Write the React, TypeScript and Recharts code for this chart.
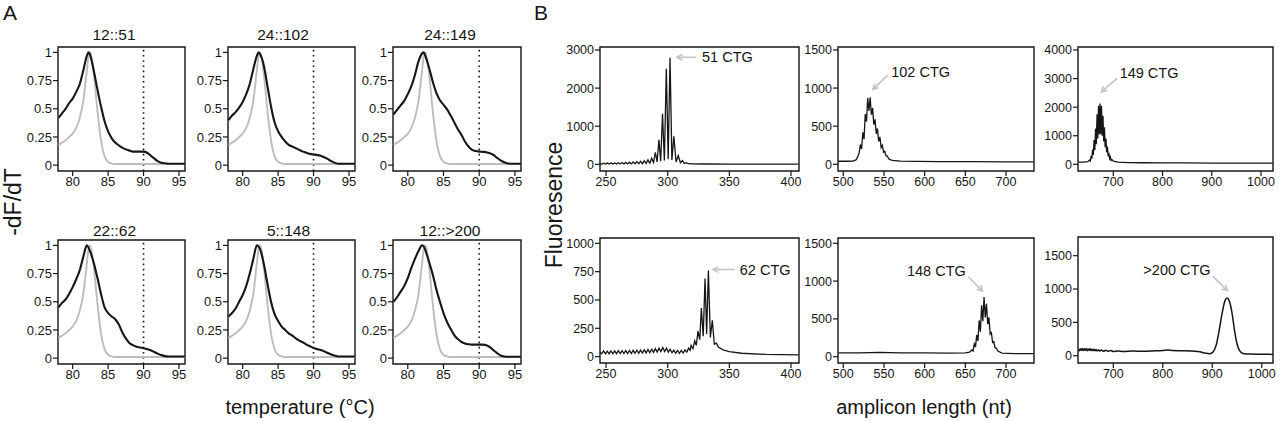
import React from 'react';
import { LineChart, Line, XAxis, YAxis, ReferenceLine, ReferenceArea, ReferenceDot } from 'recharts';

const FONT = '"Liberation Sans", Arial, Helvetica, sans-serif';
const INK = '#161616';
const GREY = '#bdbdbd';
const ARROW = '#c4c4c4';

// ---------- A: melt curves (-dF/dT) ----------
const temps = [78, 78.5, 79, 79.5, 80, 80.5, 81, 81.5, 82, 82.25, 82.5, 83, 83.5, 84, 84.5, 85, 85.5, 86, 86.5, 87, 87.5, 88, 88.5, 89, 89.5, 90, 90.5, 91, 91.5, 92, 92.5, 93, 93.5, 94, 95, 96];
const refCurve = [0.18, 0.2, 0.22, 0.25, 0.28, 0.33, 0.42, 0.57, 0.84, 0.97, 1.0, 0.8, 0.48, 0.22, 0.08, 0.03, 0.015, 0.01, 0.01, 0.01, 0.01, 0.01, 0.01, 0.01, 0.01, 0.01, 0.01, 0.01, 0.01, 0.01, 0.01, 0.01, 0.01, 0.01, 0.01, 0.01];
const melt12_51 = [0.42, 0.46, 0.5, 0.55, 0.59, 0.65, 0.72, 0.84, 0.97, 1.0, 0.97, 0.83, 0.67, 0.52, 0.39, 0.3, 0.24, 0.2, 0.175, 0.155, 0.14, 0.13, 0.12, 0.12, 0.12, 0.12, 0.11, 0.085, 0.06, 0.035, 0.022, 0.016, 0.013, 0.012, 0.012, 0.012];
const melt24_102 = [0.4, 0.44, 0.47, 0.51, 0.56, 0.63, 0.72, 0.85, 0.97, 1.0, 0.98, 0.88, 0.7, 0.52, 0.38, 0.3, 0.25, 0.21, 0.18, 0.165, 0.15, 0.135, 0.12, 0.11, 0.1, 0.095, 0.09, 0.083, 0.07, 0.055, 0.035, 0.02, 0.013, 0.012, 0.012, 0.012];
const melt24_149 = [0.45, 0.49, 0.53, 0.57, 0.63, 0.7, 0.8, 0.92, 0.99, 1.0, 0.96, 0.86, 0.74, 0.64, 0.575, 0.535, 0.495, 0.44, 0.38, 0.32, 0.27, 0.21, 0.165, 0.135, 0.125, 0.12, 0.118, 0.115, 0.105, 0.09, 0.065, 0.042, 0.025, 0.015, 0.012, 0.012];
const melt22_62 = [0.45, 0.49, 0.52, 0.57, 0.63, 0.7, 0.78, 0.9, 1.0, 0.98, 0.94, 0.84, 0.71, 0.57, 0.45, 0.4, 0.37, 0.345, 0.3, 0.23, 0.175, 0.135, 0.115, 0.1, 0.095, 0.088, 0.08, 0.07, 0.055, 0.04, 0.027, 0.018, 0.015, 0.015, 0.015, 0.015];
const melt5_148 = [0.37, 0.4, 0.44, 0.5, 0.56, 0.64, 0.75, 0.88, 1.0, 0.99, 0.96, 0.83, 0.66, 0.5, 0.39, 0.33, 0.28, 0.25, 0.22, 0.2, 0.175, 0.155, 0.14, 0.12, 0.105, 0.09, 0.08, 0.072, 0.06, 0.045, 0.033, 0.022, 0.015, 0.015, 0.015, 0.015];
const melt12_200 = [0.5, 0.54, 0.59, 0.64, 0.71, 0.8, 0.88, 0.95, 1.0, 0.99, 0.95, 0.85, 0.74, 0.61, 0.5, 0.4, 0.32, 0.26, 0.205, 0.17, 0.145, 0.13, 0.123, 0.12, 0.12, 0.12, 0.12, 0.115, 0.098, 0.07, 0.045, 0.024, 0.015, 0.012, 0.012, 0.012];
const meltTitles = ['12::51', '24::102', '24::149', '22::62', '5::148', '12::>200'];
const meltTicksX = [80, 85, 90, 95];
const meltTicksY = [0, 0.25, 0.5, 0.75, 1];

// ---------- B: fragment traces [length nt, fluorescence] ----------
const trace51: [number, number][] = [
  [245, 10], [246.5, 5], [248, 30], [249.5, 5], [251, 32], [252.5, 5], [254, 34], [255.5, 6], [257, 36], [258.5, 6], [260, 40], [261.5, 7],
  [263, 45], [264.5, 8], [266, 50], [267.5, 9], [269, 56], [270.5, 10], [272, 62], [273.5, 11], [275, 70], [276.5, 13], [278, 80], [279.5, 15],
  [281, 95], [282.5, 20], [284, 115], [285.5, 30], [287, 160], [288.5, 45], [290, 316], [291.4, 60], [292.9, 640], [294.3, 80], [295.8, 1325],
  [297.3, 100], [298.9, 2509], [300.4, 130], [301.9, 2798], [303.4, 110], [305, 737], [306.8, 60], [308.6, 230], [310.3, 40], [312, 96],
  [313.5, 20], [315, 40], [316.5, 15], [320, 12], [330, 8], [350, 6], [380, 5], [406, 5],
];
const trace102: [number, number][] = [
  [494, 40], [505, 40], [512, 42], [516, 60], [518, 110], [519.5, 150], [521, 260], [522.5, 200], [524, 420], [525.5, 330], [527, 660],
  [528.5, 560], [530, 870], [531.5, 700], [533, 880], [534.5, 650], [536, 740], [537.5, 520], [539, 590], [540.5, 400], [542, 470],
  [543.5, 300], [545, 360], [546.5, 220], [548, 250], [549.5, 160], [551, 170], [552.5, 110], [554, 110], [556, 70], [560, 50], [570, 42],
  [590, 38], [620, 36], [660, 35], [700, 33], [734, 33],
];
const trace149: [number, number][] = [
  [629, 80], [640, 80], [648, 90], [652, 150], [653.5, 120], [655, 300], [656.5, 200], [658, 520], [659.5, 330], [661, 850], [662.5, 500],
  [664, 1250], [665.5, 700], [667, 1750], [668.5, 900], [670, 2050], [671.5, 1050], [673, 2130], [674.5, 1050], [676, 2050], [677.5, 1000],
  [679, 1700], [680.5, 800], [682, 1300], [683.5, 600], [685, 900], [686.5, 420], [688, 620], [689.5, 280], [691, 400], [692.5, 200],
  [694, 260], [695.5, 140], [697, 170], [700, 110], [710, 80], [730, 60], [760, 55], [800, 50], [850, 48], [900, 45], [950, 45], [1000, 42], [1024, 42],
];
const trace62: [number, number][] = [
  [245, 40], [246.5, 25], [248, 50], [249.5, 25], [251, 48], [252.5, 24], [254, 50], [255.5, 25], [257, 50], [258.5, 26], [260, 52], [261.5, 27],
  [263, 52], [264.5, 27], [266, 54], [267.5, 28], [269, 55], [270.5, 28], [272, 56], [273.5, 30], [275, 57], [276.5, 30], [278, 58], [279.5, 32],
  [281, 60], [282.5, 33], [284, 62], [285.5, 35], [287, 65], [288.5, 38], [290, 70], [291.5, 40], [293, 75], [294.5, 45], [296, 80], [297.5, 45],
  [299, 75], [300.5, 40], [302, 65], [303.5, 35], [305, 58], [306.5, 30], [308, 55], [309.5, 30], [311, 55], [312.5, 32], [314, 60], [315.5, 40],
  [317, 75], [318.2, 55], [319, 100], [320.5, 70], [321.9, 140], [323.2, 100], [324.6, 225], [326, 150], [327.3, 430], [328.8, 180],
  [330.3, 690], [331.6, 200], [333, 760], [334.6, 170], [336.2, 320], [337.8, 110], [339.5, 120], [341, 85], [345, 60], [350, 45],
  [360, 30], [380, 20], [406, 15],
];
const trace148: [number, number][] = [
  [494, 50], [520, 52], [545, 58], [570, 50], [600, 52], [630, 48], [650, 50], [655, 60], [658, 90], [659.5, 75], [661, 170], [662.5, 130],
  [664, 290], [665.5, 210], [667, 480], [668.5, 330], [670, 680], [671.5, 470], [673, 790], [674.5, 520], [676, 700], [677.5, 430],
  [679, 520], [680.5, 300], [682, 320], [683.5, 190], [685, 200], [686.5, 120], [688, 115], [690, 75], [695, 48], [710, 42], [734, 40],
];
const trace200: [number, number][] = [
  [629, 95], [631, 75], [633, 105], [635, 80], [637, 110], [639, 78], [641, 105], [643, 80], [645, 108], [647, 76], [649, 100], [651, 80],
  [653, 104], [655, 78], [657, 98], [659, 75], [661, 96], [663, 74], [665, 92], [667, 72], [670, 88], [673, 70], [676, 85], [680, 68],
  [685, 82], [690, 66], [695, 78], [700, 64], [710, 72], [720, 65], [740, 70], [760, 68], [780, 72], [800, 78], [810, 85], [820, 78],
  [840, 75], [860, 70], [875, 60], [885, 40], [895, 30], [902, 60], [908, 160], [914, 380], [920, 640], [926, 830], [930, 865], [934, 830],
  [940, 640], [945, 380], [950, 180], [955, 80], [962, 35], [975, 25], [1000, 22], [1024, 20],
];
const traceTags = ['51 CTG', '102 CTG', '149 CTG', '62 CTG', '148 CTG', '>200 CTG'];
const tagTips: [number, number][] = [[307.6, 2808], [536.4, 983], [675.7, 2537], [336.8, 769], [671, 868], [930.5, 975]];

type Box = { left: number; top: number; width: number; height: number };
const PAD_L = 50;
const PAD_B = 24;
const PAD_T = 6;
const PAD_R = 6;

const toRows = (pts: [number, number][]) => pts.map(([x, y]) => ({ x, y }));

// arrow drawn from the tip (data point) back to its tail, label placed beside the tail
const tagShape = (text: string, s: { dx: number; dy: number; lx: number; ly: number; anchor: string }) => (p: any) => {
  const { cx, cy } = p;
  const len = Math.hypot(s.dx, s.dy);
  const ux = s.dx / len;
  const uy = s.dy / len;
  const h = 6;
  const a = 0.5;
  const ax = ux * Math.cos(a) - uy * Math.sin(a);
  const ay = ux * Math.sin(a) + uy * Math.cos(a);
  const bx = ux * Math.cos(-a) - uy * Math.sin(-a);
  const by = ux * Math.sin(-a) + uy * Math.cos(-a);
  return (
    <g>
      <line x1={cx} y1={cy} x2={cx + s.dx} y2={cy + s.dy} stroke={ARROW} strokeWidth={1.6} />
      <polyline points={`${cx + ax * h},${cy + ay * h} ${cx},${cy} ${cx + bx * h},${cy + by * h}`} fill="none" stroke={ARROW} strokeWidth={1.6} />
      <text x={cx + s.lx} y={cy + s.ly} textAnchor={s.anchor as any} dominantBaseline="central" fontSize={14.5} fontFamily={FONT} fill={INK}>{text}</text>
    </g>
  );
};

const Frame = ({ box, xDomain, yDomain, xTicks, yTicks, fontSize, data, children }: any) => (
  <div style={{ position: 'absolute', left: box.left - PAD_L, top: box.top - PAD_T }}>
    <LineChart
      width={box.width + PAD_L + PAD_R}
      height={box.height + PAD_T + PAD_B}
      data={data}
      margin={{ top: PAD_T, right: PAD_R, bottom: 0, left: 0 }}
    >
      <XAxis
        type="number" dataKey="x" domain={xDomain} ticks={xTicks} allowDataOverflow interval={0}
        height={PAD_B} axisLine={false} tickSize={5} tickMargin={1}
        tickLine={{ stroke: INK, strokeWidth: 1.2 }}
        tick={{ fontSize, fill: INK, fontFamily: FONT }}
      />
      <YAxis
        type="number" domain={yDomain} ticks={yTicks} allowDataOverflow interval={0}
        width={PAD_L} axisLine={false} tickSize={5} tickMargin={1}
        tickLine={{ stroke: INK, strokeWidth: 1.2 }}
        tick={{ fontSize, fill: INK, fontFamily: FONT }}
      />
      {children}
      <ReferenceArea x1={xDomain[0]} x2={xDomain[1]} y1={yDomain[0]} y2={yDomain[1]} fill="none" stroke={INK} strokeWidth={1.4} ifOverflow="visible" />
    </LineChart>
  </div>
);

const meltBoxes: Box[] = [
  { left: 58, top: 47, width: 127, height: 124 },
  { left: 228, top: 47, width: 127, height: 124 },
  { left: 393, top: 47, width: 128, height: 124 },
  { left: 58, top: 240, width: 127, height: 124 },
  { left: 228, top: 240, width: 127, height: 124 },
  { left: 393, top: 240, width: 128, height: 124 },
];
const meltSeries = [melt12_51, melt24_102, melt24_149, melt22_62, melt5_148, melt12_200];
const titlePos = [[114, 40], [283, 40], [450, 40], [114.5, 236], [288.5, 236], [450, 236]];

const traceBoxes: Box[] = [
  { left: 600, top: 47, width: 199, height: 124 },
  { left: 838, top: 47, width: 196, height: 124 },
  { left: 1078, top: 47, width: 195, height: 124 },
  { left: 600, top: 238, width: 199, height: 125 },
  { left: 838, top: 238, width: 196, height: 125 },
  { left: 1078, top: 237, width: 195, height: 126 },
];
const traces = [trace51, trace102, trace149, trace62, trace148, trace200];
const traceX = [[245.1, 406.5], [493.5, 734.4], [628.3, 1024.4], [245.1, 406.5], [493.5, 734.4], [628.6, 1022.8]];
const traceY = [[-176, 3079], [-88, 1539], [-234, 4105], [-56, 1047], [-83, 1570], [-109, 1780]];
const traceTicksX = [[250, 300, 350, 400], [500, 550, 600, 650, 700], [700, 800, 900, 1000], [250, 300, 350, 400], [500, 550, 600, 650, 700], [700, 800, 900, 1000]];
const traceTicksY = [[0, 1000, 2000, 3000], [0, 500, 1000, 1500], [0, 1000, 2000, 3000, 4000], [0, 250, 500, 750, 1000], [0, 500, 1000, 1500], [0, 500, 1000, 1500]];
const tagStyle = [
  { dx: 19, dy: 0, lx: 25, ly: 0, anchor: 'start' },
  { dx: 15, dy: -14.3, lx: 18.3, ly: -17, anchor: 'start' },
  { dx: 15.7, dy: -13.4, lx: 18.3, ly: -19, anchor: 'start' },
  { dx: 21.7, dy: 0, lx: 26.7, ly: 0, anchor: 'start' },
  { dx: -14, dy: -14.3, lx: -16.6, ly: -20.3, anchor: 'end' },
  { dx: -14.4, dy: -14.3, lx: -16.7, ly: -20.3, anchor: 'end' },
];

export default function App() {
  return (
    <div style={{ position: 'absolute', left: 0, top: 0, width: 1280, height: 421, background: '#fff', overflow: 'hidden', fontFamily: FONT }}>
      {meltSeries.map((vals, i) => {
        const rows = temps.map((t, j) => ({ x: t, ref: refCurve[j], val: vals[j] }));
        return (
          <Frame key={`m${i}`} box={meltBoxes[i]} xDomain={[77.93, 95.85]} yDomain={[-0.052, 1.048]}
            xTicks={meltTicksX} yTicks={meltTicksY} fontSize={13} data={rows}>
            <ReferenceLine x={90} stroke={INK} strokeWidth={1.6} strokeDasharray="1.6 3.6" />
            <Line dataKey="ref" type="monotone" stroke={GREY} strokeWidth={1.9} dot={false} isAnimationActive={false} />
            <Line dataKey="val" type="monotone" stroke={INK} strokeWidth={2.1} dot={false} isAnimationActive={false} />
          </Frame>
        );
      })}

      {traces.map((pts, i) => (
        <Frame key={`t${i}`} box={traceBoxes[i]} xDomain={traceX[i]} yDomain={traceY[i]}
          xTicks={traceTicksX[i]} yTicks={traceTicksY[i]} fontSize={12.5}>
          <Line data={toRows(pts)} dataKey="y" type={i === 5 ? 'monotone' : 'linear'} stroke={INK} strokeWidth={i === 5 ? 1.5 : 1.3} dot={false} isAnimationActive={false} />
          <ReferenceDot x={tagTips[i][0]} y={tagTips[i][1]} r={0} shape={tagShape(traceTags[i], tagStyle[i])} />
        </Frame>
      ))}

      <svg width={1280} height={421} style={{ position: 'absolute', left: 0, top: 0, pointerEvents: 'none' }} fontFamily={FONT} fill={INK}>
        <text x={3} y={20} fontSize={21}>A</text>
        <text x={534} y={20} fontSize={21}>B</text>
        {meltTitles.map((t, i) => (
          <text key={t} x={titlePos[i][0]} y={titlePos[i][1]} fontSize={15.5} textAnchor="middle">{t}</text>
        ))}
        <text x={300} y={414} fontSize={20} textAnchor="middle">temperature (°C)</text>
        <text x={924} y={414} fontSize={20} textAnchor="middle">amplicon length (nt)</text>
        <text x={21} y={202} fontSize={23} textAnchor="middle" transform="rotate(-90 21 202)">-dF/dT</text>
        <text x={562} y={205} fontSize={23} textAnchor="middle" transform="rotate(-90 562 205)">Fluoresence</text>
      </svg>
    </div>
  );
}
